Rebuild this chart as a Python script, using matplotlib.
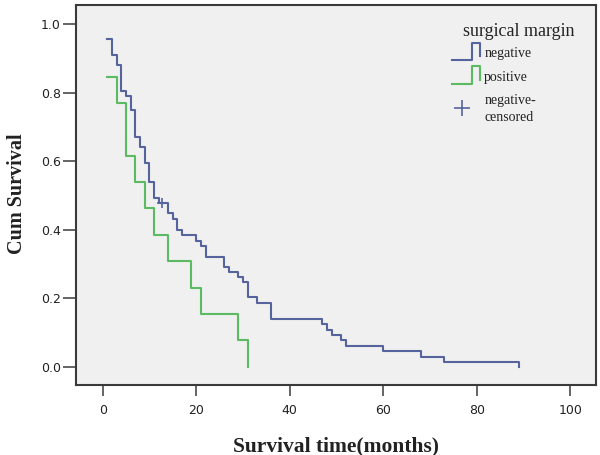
import matplotlib
matplotlib.use('Agg')
import matplotlib.pyplot as plt

# ---- data ----
neg_time = [1, 2, 3, 4, 5, 6, 7, 8, 9, 10, 11, 12, 14, 15, 16, 17, 20, 21, 22, 26,
            27, 29, 30, 31, 33, 36, 47, 48, 49, 51, 52, 60, 68, 73, 89]
neg_surv = [0.956, 0.910, 0.880, 0.805, 0.790, 0.748, 0.669, 0.642, 0.595, 0.538,
            0.491, 0.479, 0.448, 0.430, 0.400, 0.385, 0.367, 0.353, 0.321, 0.290,
            0.277, 0.263, 0.248, 0.202, 0.187, 0.139, 0.124, 0.108, 0.092, 0.077,
            0.061, 0.045, 0.029, 0.014, 0.0]
neg_cens_time = [12.7]
neg_cens_surv = [0.479]

pos_time = [1, 3, 5, 7, 9, 11, 14, 19, 21, 29, 31]
pos_surv = [0.846, 0.769, 0.615, 0.538, 0.462, 0.385, 0.308, 0.231, 0.154, 0.077, 0.0]

x_ticks = [0, 20, 40, 60, 80, 100]
y_ticks = [0.0, 0.2, 0.4, 0.6, 0.8, 1.0]
legend_title = "surgical margin"
legend_labels = ["negative", "positive", "negative-\ncensored"]

BLUE = '#56649e'
GREEN = '#5cbb62'
FRAME = '#3a3a3a'

W, H = 600, 455
fig = plt.figure(figsize=(6.0, 4.55), dpi=100)
L, R, B, T = 76, 595.7, 384.7, 5
ax = fig.add_axes([L / W, 1 - B / H, (R - L) / W, (B - T) / H])
ax.set_facecolor('#f0f0f0')

ax.step(neg_time, neg_surv, where='post', color=BLUE, lw=1.5)
ax.step(pos_time, pos_surv, where='post', color=GREEN, lw=1.5)
ax.plot(neg_cens_time, neg_cens_surv, linestyle='none', marker='+', ms=7,
        mew=1.2, color=BLUE)

ax.set_xlim(-5.7, 105.45)
ax.set_ylim(-0.0525, 1.0555)
ax.set_xticks(x_ticks)
ax.set_yticks(y_ticks)
ax.set_xticklabels([str(t) for t in x_ticks], family='DejaVu Sans', fontsize=9)
ax.set_yticklabels([f"{t:.1f}" for t in y_ticks], family='DejaVu Sans', fontsize=9)
ax.tick_params(axis='y', direction='out', length=9.5, width=1.1, color=FRAME,
               pad=1.5, labelcolor='#222222')
ax.tick_params(axis='x', direction='out', length=8, width=1.1, color=FRAME,
               pad=6, labelcolor='#222222')
for s in ax.spines.values():
    s.set_color(FRAME)
    s.set_linewidth(1.5)

fig.text(336 / W, 1 - 446 / H, "Survival time(months)", ha='center', va='center',
         family='Liberation Serif', fontweight='bold', fontsize=15.5, color='#222222')
fig.text(17 / W, 1 - 194 / H, "Cum Survival", ha='center', va='center', rotation=90,
         family='Liberation Serif', fontweight='bold', fontsize=14.5, color='#222222')


# ---- legend (drawn in axes coordinates) ----
def ax_xy(px, py):
    return (px - L) / (R - L), (B - py) / (B - T)


tx, ty = ax_xy(519.2, 31.7)
ax.text(tx, ty, legend_title, transform=ax.transAxes, ha='center', va='center',
        family='Liberation Serif', fontsize=13, color='#222222')

for i, (col, lab) in enumerate(zip([BLUE, GREEN], legend_labels[:2])):
    dy = i * 23.7
    pts = [(451.7, 60 + dy), (471.7, 60 + dy), (471.7, 42.7 + dy),
           (480, 42.7 + dy), (480, 56 + dy)]
    xs, ys = zip(*[ax_xy(px, py) for px, py in pts])
    ax.plot(xs, ys, transform=ax.transAxes, color=col, lw=1.5, clip_on=False)
    lx, ly = ax_xy(484.3, 53.3 + dy)
    ax.text(lx, ly, lab, transform=ax.transAxes, ha='left', va='center',
            family='Liberation Serif', fontsize=10, color='#222222')

mx, my = ax_xy(461.7, 108.3)
ax.plot([mx], [my], transform=ax.transAxes, marker='+', ms=12, mew=1.2,
        color=BLUE, linestyle='none', clip_on=False)
lx, ly = ax_xy(484.3, 109)
ax.text(lx, ly, legend_labels[2], transform=ax.transAxes, ha='left', va='center',
        family='Liberation Serif', fontsize=10, color='#222222', linespacing=1.45)

fig.savefig('out.png', dpi=100, facecolor='white')
